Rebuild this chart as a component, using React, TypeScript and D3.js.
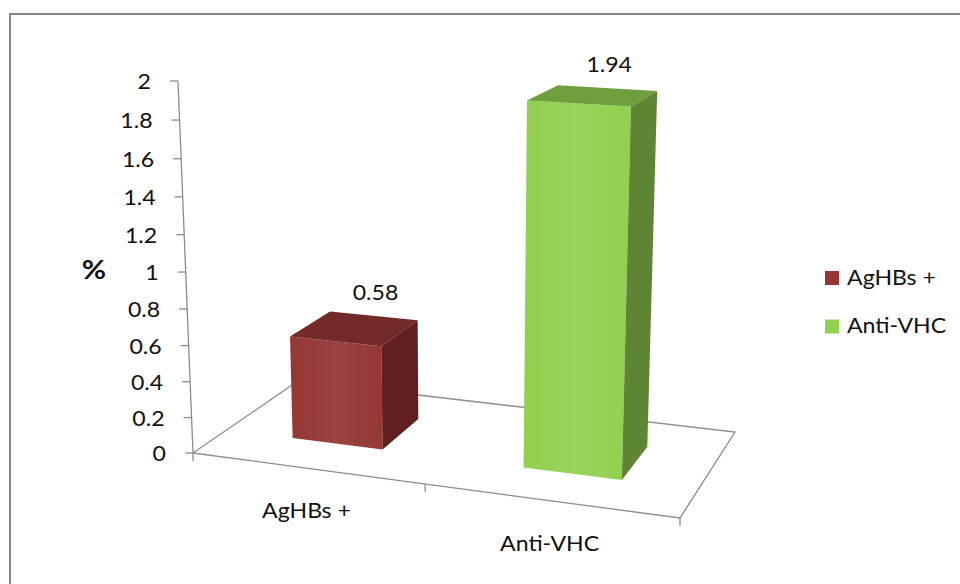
import React from "react";
import * as d3 from "d3";

// Chart data
const categories: string[] = ["AgHBs +", "Anti-VHC"];
const values: number[] = [0.58, 1.94];
const valueTicks: number[] = [0, 0.2, 0.4, 0.6, 0.8, 1, 1.2, 1.4, 1.6, 1.8, 2];
const axisTitle = "%";

// Colours per series: front, top, side faces
const faceColors = [
  { front: "#953735", top: "#742a29", side: "#5f201f" },
  { front: "#92d050", top: "#6e9f3d", side: "#5e8534" },
];

// Layout: floor quad on screen (front-left, front-right, back-right, back-left),
// top of the value axis, and the vanishing point of vertical lines.
const W = 960;
const H = 584;
const FLOOR: [number, number][] = [
  [193, 453],
  [680, 518],
  [735, 432],
  [298, 381],
];
const AXIS_TOP: [number, number] = [178, 81];
const VERT_VP: [number, number] = [462, 7123];

const FONT = "Lato, 'Open Sans', sans-serif";
const STRETCH = 1.1;
const TEXT_COLOR = "#111";

// Projective map from the unit floor square (u across, w into depth) to the quad
function floorHomography(q: [number, number][]) {
  const [[x0, y0], [x1, y1], [x2, y2], [x3, y3]] = q;
  const dx1 = x1 - x2, dx2 = x3 - x2, dx3 = x0 - x1 + x2 - x3;
  const dy1 = y1 - y2, dy2 = y3 - y2, dy3 = y0 - y1 + y2 - y3;
  const den = dx1 * dy2 - dx2 * dy1;
  const g = (dx3 * dy2 - dx2 * dy3) / den;
  const h = (dx1 * dy3 - dx3 * dy1) / den;
  return {
    a: x1 - x0 + g * x1, b: x3 - x0 + h * x3, c: x0,
    d: y1 - y0 + g * y1, e: y3 - y0 + h * y3, f: y0,
    g, h,
  };
}

const HM = floorHomography(FLOOR);
const lam = (AXIS_TOP[1] - FLOOR[0][1]) / (VERT_VP[1] - AXIS_TOP[1]);

// u: 0..1 across categories, w: 0..1 front to back, t: 0..1 of value range
function project(u: number, w: number, t: number): [number, number] {
  const X = HM.a * u + HM.b * w + HM.c + t * lam * VERT_VP[0];
  const Y = HM.d * u + HM.e * w + HM.f + t * lam * VERT_VP[1];
  const Z = HM.g * u + HM.h * w + 1 + t * lam;
  return [X / Z, Y / Z];
}

const xBand = d3.scaleBand<string>().domain(categories).range([0, 1]).padding(0);
const yVal = d3.scaleLinear().domain([0, 2]).range([0, 1]);

const BAR_W0 = 0.3;
const BAR_W1 = 0.7;

const pts = (arr: [number, number][]) => arr.map((p) => p.join(",")).join(" ");

function Label(props: {
  x: number; y: number; text: string; size: number; anchor?: string; weight?: string;
}) {
  const { x, y, text, size, anchor = "start", weight = "normal" } = props;
  return (
    <text
      transform={`translate(${x},${y}) scale(${STRETCH},1)`}
      fontFamily={FONT}
      fontSize={size}
      fontWeight={weight}
      textAnchor={anchor}
      fill={TEXT_COLOR}
    >
      {text}
    </text>
  );
}

export default function App() {
  const axisBase = project(0, 0, 0);
  const axisTop = project(0, 0, 1);
  const catTickUs = [0, 0.5, 1];

  const bars = categories.map((cat, i) => {
    const bw = xBand.bandwidth();
    const u0 = (xBand(cat) as number) + bw * 0.3;
    const u1 = (xBand(cat) as number) + bw * 0.7;
    const t = yVal(values[i]);
    const front: [number, number][] = [
      project(u0, BAR_W0, 0), project(u1, BAR_W0, 0), project(u1, BAR_W0, t), project(u0, BAR_W0, t),
    ];
    const top: [number, number][] = [
      project(u0, BAR_W0, t), project(u1, BAR_W0, t), project(u1, BAR_W1, t), project(u0, BAR_W1, t),
    ];
    const side: [number, number][] = [
      project(u1, BAR_W0, 0), project(u1, BAR_W1, 0), project(u1, BAR_W1, t), project(u1, BAR_W0, t),
    ];
    const uc = (u0 + u1) / 2;
    const labelAt = project(uc, BAR_W1, t);
    return { cat, i, front, top, side, labelAt, value: values[i] };
  });

  return (
    <svg
      width={W}
      height={H}
      style={{ position: "absolute", left: 0, top: 0, background: "#fff" }}
    >
      <defs>
        <linearGradient id="frontSheen" x1="0" x2="1" y1="0" y2="0">
          <stop offset="0" stopColor="#fff" stopOpacity={0} />
          <stop offset="0.5" stopColor="#fff" stopOpacity={0.06} />
          <stop offset="1" stopColor="#fff" stopOpacity={0} />
        </linearGradient>
      </defs>
      <rect x={10} y={14} width={1200} height={1200} fill="#fff" stroke="#868686" strokeWidth={2} />

      {/* floor */}
      <polygon
        points={pts(FLOOR.map((_, k) => project(k === 1 || k === 2 ? 1 : 0, k >= 2 ? 1 : 0, 0)))}
        fill="none"
        stroke="#8c8c8c"
        strokeWidth={1.3}
      />

      {/* category ticks */}
      {catTickUs.map((u) => {
        const [x, y] = project(u, 0, 0);
        return <line key={u} x1={x} y1={y} x2={x} y2={y + 8} stroke="#8c8c8c" strokeWidth={1.3} />;
      })}

      {/* value axis */}
      <line x1={axisBase[0]} y1={axisBase[1]} x2={axisTop[0]} y2={axisTop[1]} stroke="#8c8c8c" strokeWidth={1.3} />
      {valueTicks.map((v) => {
        const [x, y] = project(0, 0, yVal(v));
        return (
          <g key={v}>
            <line x1={x - 8} y1={y} x2={x} y2={y} stroke="#8c8c8c" strokeWidth={1.3} />
            <Label x={x - 27} y={y + 8} text={String(v)} size={21} anchor="end" />
          </g>
        );
      })}
      <Label x={94} y={279} text={axisTitle} size={27} anchor="middle" weight="bold" />

      {/* bars */}
      {bars.map((b) => (
        <g key={b.cat}>
          <polygon points={pts(b.front)} fill={faceColors[b.i].front} />
          <polygon points={pts(b.front)} fill="url(#frontSheen)" />
          <polygon points={pts(b.top)} fill={faceColors[b.i].top} />
          <polygon points={pts(b.side)} fill={faceColors[b.i].side} />
        </g>
      ))}

      {/* value labels */}
      {bars.map((b) => (
        <Label
          key={b.cat}
          x={b.labelAt[0] + 2}
          y={b.labelAt[1] - 16}
          text={String(b.value)}
          size={21}
          anchor="middle"
        />
      ))}

      {/* category labels */}
      {categories.map((cat) => {
        const uc = (xBand(cat) as number) + xBand.bandwidth() / 2;
        const [x, y] = project(uc, 0, 0);
        return <Label key={cat} x={x} y={y + 50} text={cat} size={21} anchor="middle" />;
      })}

      {/* legend */}
      {categories.map((cat, i) => (
        <g key={cat}>
          <rect x={825} y={271 + i * 48.5} width={14} height={14} fill={faceColors[i].front} />
          <Label x={847} y={284.5 + i * 48.5} text={cat} size={21} />
        </g>
      ))}
    </svg>
  );
}
